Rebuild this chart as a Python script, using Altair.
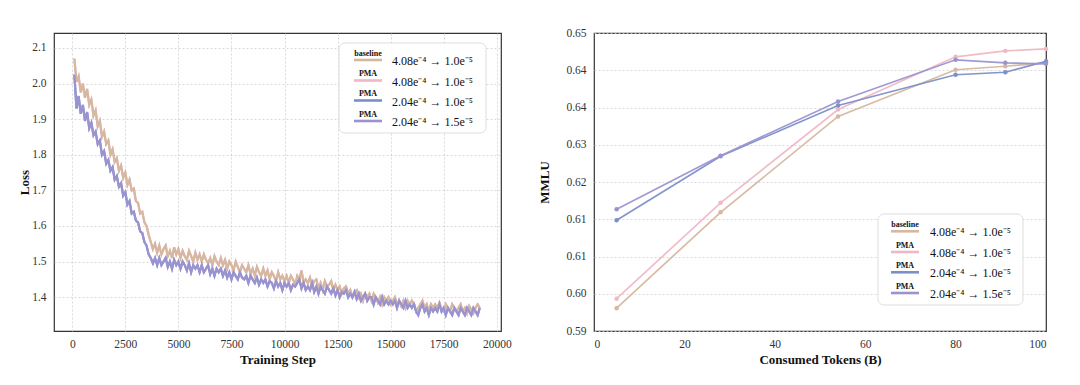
import altair as alt
import pandas as pd

# ---------------- data ----------------
series_names = ["baseline", "PMA", "PMA", "PMA"]
series_labels = ["4.08e\u207b\u2074 \u2192 1.0e\u207b\u2075",
                 "4.08e\u207b\u2074 \u2192 1.0e\u207b\u2075",
                 "2.04e\u207b\u2074 \u2192 1.0e\u207b\u2075",
                 "2.04e\u207b\u2074 \u2192 1.5e\u207b\u2075"]
series_colors = ["#d6b7a0", "#efb8c4", "#7b90c9", "#9b93d0"]

# left panel: training loss
steps = list(range(100, 19300, 100))
loss_baseline = [
    2.07, 2.005, 2.02, 1.975, 2.00, 1.96, 1.985, 1.94, 1.955, 1.91, 1.925, 1.88, 1.895, 1.85, 1.865, 1.83, 1.84, 1.80, 1.815, 1.78,
    1.79, 1.755, 1.77, 1.735, 1.75, 1.715, 1.73, 1.70, 1.705, 1.67,
    1.665, 1.635, 1.64, 1.61, 1.60, 1.575, 1.555, 1.535, 1.55, 1.525,
    1.545, 1.52, 1.535, 1.545, 1.515, 1.53, 1.51, 1.54, 1.52, 1.535,
    1.51, 1.53, 1.515, 1.505, 1.53, 1.515, 1.50, 1.525, 1.505, 1.52,
    1.50, 1.52, 1.505, 1.495, 1.51, 1.49, 1.515, 1.50, 1.49, 1.51,
    1.49, 1.505, 1.48, 1.50, 1.49, 1.475, 1.50, 1.485, 1.47, 1.49,
    1.48, 1.47, 1.49, 1.465, 1.48, 1.46, 1.485, 1.47, 1.46, 1.48,
    1.46, 1.475, 1.45, 1.47, 1.46, 1.445, 1.47, 1.45, 1.46, 1.445,
    1.46, 1.44, 1.46, 1.45, 1.435, 1.46, 1.45, 1.475, 1.44, 1.45,
    1.44, 1.455, 1.43, 1.445, 1.45, 1.425, 1.44, 1.42, 1.445, 1.43,
    1.435, 1.445, 1.42, 1.435, 1.42, 1.43, 1.41, 1.425, 1.43, 1.41,
    1.42, 1.40, 1.415, 1.42, 1.40, 1.41, 1.39, 1.41, 1.40, 1.41,
    1.39, 1.41, 1.40, 1.385, 1.40, 1.38, 1.40, 1.39, 1.40, 1.38,
    1.39, 1.40, 1.38, 1.39, 1.375, 1.39, 1.37, 1.39, 1.38, 1.39,
    1.38, 1.36, 1.37, 1.38, 1.39, 1.37, 1.38, 1.36, 1.38, 1.37,
    1.38, 1.37, 1.385, 1.365, 1.36, 1.38, 1.37, 1.36, 1.38, 1.37,
    1.36, 1.37, 1.38, 1.36, 1.37, 1.355, 1.375, 1.365, 1.355, 1.37, 1.38, 1.37,
]
loss_pma_204_15 = [
    2.025, 1.93, 1.965, 1.915, 1.94, 1.895, 1.92, 1.875, 1.89, 1.855, 1.865, 1.83, 1.84, 1.80, 1.81, 1.775, 1.785, 1.755, 1.765, 1.73,
    1.74, 1.71, 1.72, 1.685, 1.695, 1.66, 1.67, 1.635, 1.64, 1.615,
    1.61, 1.585, 1.58, 1.555, 1.545, 1.52, 1.51, 1.495, 1.51, 1.49,
    1.51, 1.49, 1.50, 1.51, 1.485, 1.50, 1.48, 1.505, 1.49, 1.50,
    1.48, 1.50, 1.49, 1.475, 1.495, 1.47, 1.49, 1.48, 1.49, 1.47,
    1.49, 1.47, 1.48, 1.49, 1.465, 1.48, 1.46, 1.48, 1.47, 1.48,
    1.46, 1.475, 1.455, 1.47, 1.45, 1.47, 1.46, 1.45, 1.47, 1.455,
    1.45, 1.46, 1.44, 1.46, 1.45, 1.44, 1.455, 1.435, 1.45, 1.44,
    1.45, 1.43, 1.445, 1.44, 1.425, 1.445, 1.43, 1.44, 1.42, 1.44,
    1.43, 1.44, 1.42, 1.435, 1.43, 1.44, 1.45, 1.425, 1.44, 1.42,
    1.43, 1.42, 1.44, 1.415, 1.43, 1.41, 1.43, 1.42, 1.41, 1.43,
    1.42, 1.41, 1.425, 1.405, 1.42, 1.40, 1.415, 1.41, 1.42, 1.40,
    1.41, 1.40, 1.415, 1.395, 1.41, 1.39, 1.40, 1.41, 1.39, 1.40,
    1.40, 1.38, 1.40, 1.39, 1.38, 1.40, 1.38, 1.39, 1.38, 1.39,
    1.38, 1.39, 1.37, 1.39, 1.38, 1.37, 1.39, 1.37, 1.38, 1.37,
    1.38, 1.36, 1.35, 1.37, 1.38, 1.36, 1.37, 1.35, 1.37, 1.36,
    1.37, 1.36, 1.38, 1.36, 1.37, 1.35, 1.37, 1.36, 1.35, 1.37,
    1.36, 1.35, 1.37, 1.36, 1.35, 1.37, 1.36, 1.35, 1.37, 1.36, 1.35, 1.37,
]
# PMA curves with the same schedule overlap the visible ones
loss_pma_408_10 = loss_baseline
loss_pma_204_10 = loss_pma_204_15

loss_xticks = [0, 2500, 5000, 7500, 10000, 12500, 15000, 17500, 20000]
loss_yticks = [1.4, 1.5, 1.6, 1.7, 1.8, 1.9, 2.0, 2.1]

# right panel: MMLU
tokens = [5, 28, 54, 80, 91, 100]
mmlu_baseline = [0.5946, 0.6139, 0.6332, 0.6426, 0.6433, 0.6440]
mmlu_pma_408_10 = [0.5965, 0.6158, 0.6346, 0.6452, 0.6464, 0.6468]
mmlu_pma_204_10 = [0.6123, 0.6252, 0.6354, 0.6416, 0.6421, 0.6443]
mmlu_pma_204_15 = [0.6145, 0.6253, 0.6362, 0.6446, 0.6440, 0.6438]

mmlu_xticks = [0, 20, 40, 60, 80, 100]
mmlu_yticks = [0.59, 0.5975, 0.605, 0.6125, 0.62, 0.6275, 0.635, 0.6425, 0.65]
mmlu_ytick_labels = ["0.59", "0.60", "0.61", "0.61", "0.62", "0.63", "0.64", "0.64", "0.65"]

FONT = "Liberation Serif"
W1, W2, H = 447, 452, 298

# ---------------- helpers ----------------
def legend_layers(box, rows_y, sym_x0, sym_x1, label_x):
    one = pd.DataFrame({"k": [0]})
    layers = [alt.Chart(one).mark_rect(cornerRadius=6, fill="white", fillOpacity=0.9,
                                       stroke="#dddddd", strokeWidth=1).encode(
        x=alt.value(box[0]), x2=alt.value(box[1]), y=alt.value(box[2]), y2=alt.value(box[3]))]
    for name, lab, col, yy in zip(series_names, series_labels, series_colors, rows_y):
        layers.append(alt.Chart(one).mark_rule(color=col, strokeWidth=2.6).encode(
            x=alt.value(sym_x0), x2=alt.value(sym_x1), y=alt.value(yy)))
        layers.append(alt.Chart(one).mark_text(font=FONT, fontSize=8, fontWeight="bold",
                                               color="#111", baseline="middle", align="center").encode(
            x=alt.value((sym_x0 + sym_x1) / 2), y=alt.value(yy - 6.5), text=alt.value(name)))
        layers.append(alt.Chart(one).mark_text(font=FONT, fontSize=12, color="#111",
                                               baseline="middle", align="left").encode(
            x=alt.value(label_x), y=alt.value(yy + 1), text=alt.value(lab)))
    return layers

# ---------------- left chart ----------------
x_loss = alt.X("step:Q", scale=alt.Scale(domain=[-860, 20200], nice=False, zero=False),
               axis=alt.Axis(values=loss_xticks, title="Training Step", format="d",
                             labelPadding=7, titlePadding=4))
y_loss = alt.Y("loss:Q", scale=alt.Scale(domain=[1.305, 2.142], nice=False, zero=False),
               axis=alt.Axis(values=loss_yticks, title="Loss", format=".1f", tickSize=0,
                             labelPadding=8, titlePadding=0))

loss_series = [
    (loss_pma_408_10, series_colors[1]),
    (loss_pma_204_10, series_colors[2]),
    (loss_baseline, series_colors[0]),
    (loss_pma_204_15, series_colors[3]),
]
left_layers = []
for vals, col in loss_series:
    df = pd.DataFrame({"step": steps, "loss": vals})
    left_layers.append(alt.Chart(df).mark_line(color=col, strokeWidth=2.2, clip=True).encode(x=x_loss, y=y_loss))

left_layers += legend_layers((285, 432, 10, 100), [27, 47.5, 67.5, 88], 300, 328, 338)
left = alt.layer(*left_layers).properties(width=W1, height=H)

# ---------------- right chart ----------------
label_expr = "[" + ",".join("'%s'" % s for s in mmlu_ytick_labels) + "][round((datum.value - 0.59) / 0.0075)]"
x_mm = alt.X("tok:Q", scale=alt.Scale(domain=[0, 100], nice=False),
             axis=alt.Axis(values=mmlu_xticks, title="Consumed Tokens (B)", grid=False,
                           labelPadding=7, titlePadding=4))
y_mm = alt.Y("mmlu:Q", scale=alt.Scale(domain=[0.59, 0.65], nice=False, zero=False),
             axis=alt.Axis(values=mmlu_yticks, labelExpr=label_expr, title="MMLU", tickSize=0,
                           labelPadding=8, titlePadding=14))

mm_series = [
    (mmlu_baseline, series_colors[0]),
    (mmlu_pma_408_10, series_colors[1]),
    (mmlu_pma_204_10, series_colors[2]),
    (mmlu_pma_204_15, series_colors[3]),
]
right_layers = []
for vals, col in mm_series:
    df = pd.DataFrame({"tok": tokens, "mmlu": vals})
    right_layers.append(alt.Chart(df).mark_line(
        color=col, strokeWidth=1.7, opacity=0.95,
        point=alt.OverlayMarkDef(filled=True, size=20, color=col, opacity=1)).encode(x=x_mm, y=y_mm))

right_layers += legend_layers((284, 429, 181, 272), [198.3, 219, 239.3, 260], 297, 325, 336)
right = alt.layer(*right_layers).properties(width=W2, height=H)

chart = alt.hconcat(left, right, spacing=26).properties(
    padding={"left": 10, "top": 18, "right": 0, "bottom": 0},
    background="white",
).configure_view(
    stroke="#333333", strokeWidth=1.2
).configure_axis(
    labelFont=FONT, titleFont=FONT, labelFontSize=11.5, titleFontSize=13,
    titleFontWeight="bold", labelColor="#333333", titleColor="#111111",
    domain=False, ticks=False, gridColor="#cfcfcf", gridDash=[2, 2], gridWidth=0.8
)

chart.save("out.html", embed_options={"renderer": "svg", "actions": False})
